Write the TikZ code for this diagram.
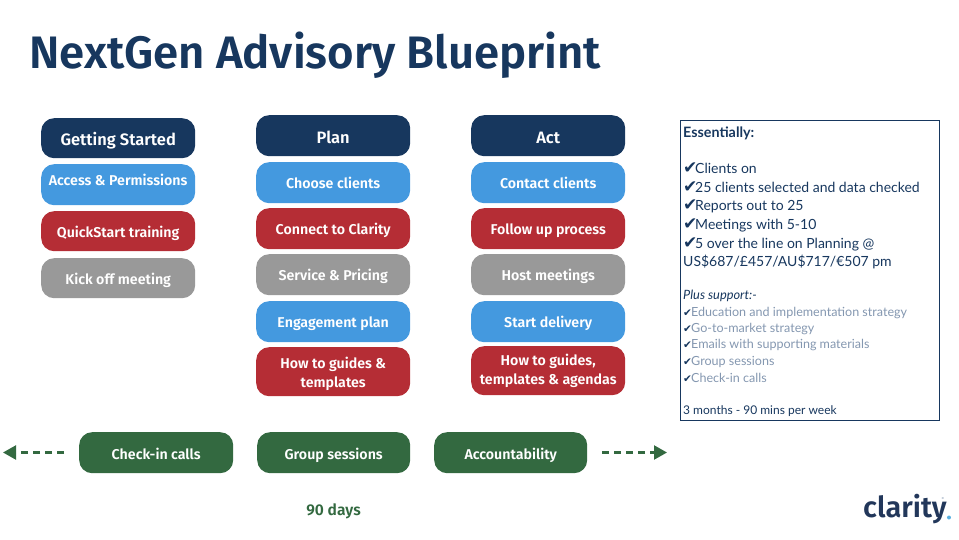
\documentclass[tikz,border=0pt]{standalone}
\usepackage{fontspec}
\setmainfont{Fira Sans}[BoldFont={Fira Sans SemiBold}]
\newfontfamily\lato{Lato}
\newfontfamily\djv{DejaVu Sans}
\usetikzlibrary{arrows.meta}
\definecolor{navy}{HTML}{17375E}
\definecolor{sky}{HTML}{4499DF}
\definecolor{brick}{HTML}{B52D35}
\definecolor{stone}{HTML}{999999}
\definecolor{forest}{HTML}{336940}
\definecolor{mist}{HTML}{8497B0}
\definecolor{logonavy}{HTML}{22375A}
\definecolor{dotblue}{HTML}{5AB0E0}
\tikzset{
 x=1pt,y=-1pt,
 pill/.style={rounded corners=13pt,minimum width=154pt,anchor=north west,inner sep=0pt,align=center,text=white,font=\fontsize{14.2}{19}\selectfont\bfseries},
 h41/.style={pill,minimum height=41pt,text height=14pt,text depth=2pt},
 h49/.style={pill,minimum height=49pt},
 hdr/.style={h41,fill=navy,text height=18pt,font=\fontsize{16.5}{19}\selectfont\bfseries},
 blue/.style={h41,fill=sky},
 red/.style={h41,fill=brick},
 grey/.style={h41,fill=stone},
 green/.style={h41,fill=forest,text height=15pt},
 dashline/.style={draw=forest,line width=2.2pt,dash pattern=on 7pt off 5pt,-{Triangle[length=13pt,width=14pt]}},
 infoline/.style={anchor=west,inner sep=0pt,text=navy,font=\lato\fontsize{14}{16}\selectfont},
 subline/.style={anchor=west,inner sep=0pt,text=mist,font=\lato\fontsize{12.55}{14}\selectfont},
}
\newcommand{\bigtick}{\makebox[12pt][l]{\djv\fontsize{17}{16}\selectfont ✔}}
\newcommand{\smalltick}{\makebox[8pt][l]{\djv\color{navy}\fontsize{10.5}{14}\selectfont ✔}}
\begin{document}
\begin{tikzpicture}
\useasboundingbox (0,0) rectangle (959,540);
\node[anchor=west,inner sep=0pt,text=navy,font=\fontsize{45.5}{50}\selectfont\bfseries] (title) at (29,55.5) {NextGen Advisory Blueprint};
% column 1
\node[hdr,minimum height=40pt,text height=17pt] (gs) at (41,118) {Getting Started};
\node[blue] (ap) at (41,164) {\raisebox{5pt}{Access \& Permissions}};
\node[red,minimum height=40pt] (qs) at (41,211) {QuickStart training};
\node[grey,minimum height=40pt] (ko) at (41,258) {Kick off meeting};
% column 2
\node[hdr] (plan) at (256,115) {Plan};
\node[blue] (cc) at (256,162) {Choose clients};
\node[red] (cl) at (256,208) {Connect to Clarity};
\node[grey] (sp) at (256,254) {Service \& Pricing};
\node[blue] (ep) at (256,301) {Engagement plan};
\node[h49,fill=brick,text depth=0pt] (ht) at (256,347) {\raisebox{-2pt}{How to guides \&}\\\raisebox{-2pt}{templates}};
% column 3
\node[hdr] (act) at (471,115) {Act};
\node[blue] (ct) at (471,162) {Contact clients};
\node[red] (fu) at (471,208) {Follow up process};
\node[grey] (hm) at (471,254) {Host meetings};
\node[blue] (sd) at (471,301) {Start delivery};
\node[h49,fill=brick] (hg) at (471,346) {\raisebox{-1pt}{How to guides,}\\\raisebox{-1pt}{templates \& agendas}};
% green row
\node[green] (ci) at (79,432) {Check-in calls};
\node[green,minimum width=153pt] (gp) at (257,432) {Group sessions};
\node[green,minimum width=153pt] (ac) at (434,432) {Accountability};
\coordinate (lfrom) at (64,452.5);
\coordinate (lto) at (3,452.5);
\coordinate (rfrom) at (602,452.5);
\coordinate (rto) at (667,452.5);
\draw[dashline] (lfrom) -- (lto);
\draw[dashline] (rfrom) -- (rto);
\node[inner sep=0pt,text=forest,font=\fontsize{15.6}{19}\selectfont\bfseries] (days) at (333.5,511.5) {90 days};
% info box
\node[draw=navy,line width=1pt,minimum width=258.5pt,minimum height=300pt,anchor=north west,inner sep=0pt] (info) at (680,120) {};
\node[infoline,font=\lato\bfseries\fontsize{14.3}{16}\selectfont] (i0) at (683,133) {Essentially:};
\node[infoline] (i1) at (683,168.5) {\bigtick Clients on};
\node[infoline] (i2) at (683,187) {\bigtick 25 clients selected and data checked};
\node[infoline] (i3) at (683,206.5) {\bigtick Reports out to 25};
\node[infoline] (i4) at (683,225.5) {\bigtick Meetings with 5-10};
\node[infoline] (i5) at (683,244.5) {\bigtick 5 over the line on Planning @};
\node[infoline] (i6) at (683,262) {US\$687/£457/AU\$717/€507 pm};
\node[infoline,font=\lato\itshape\fontsize{12.8}{14}\selectfont] (s0) at (683,296) {Plus support:-};
\node[subline] (s1) at (683,313) {\smalltick Education and implementation strategy};
\node[subline] (s2) at (683,329.5) {\smalltick Go-to-market strategy};
\node[subline] (s3) at (683,345.5) {\smalltick Emails with supporting materials};
\node[subline] (s4) at (683,362) {\smalltick Group sessions};
\node[subline] (s5) at (683,378) {\smalltick Check-in calls};
\node[infoline,font=\lato\fontsize{12}{14}\selectfont] (s6) at (683,411) {3 months - 90 mins per week};
% logo
\node[anchor=west,inner sep=0pt,text=logonavy,font=\fontsize{29}{30}\selectfont\bfseries] (logo) at (863,509) {clarity};
\fill[dotblue] ([xshift=2pt,yshift=-8.5pt]logo.east) circle (2pt);
\node[inner sep=0pt,text=mist,font=\fontsize{4}{4}\selectfont] (reg) at (943,499) {®};
\end{tikzpicture}
\end{document}
